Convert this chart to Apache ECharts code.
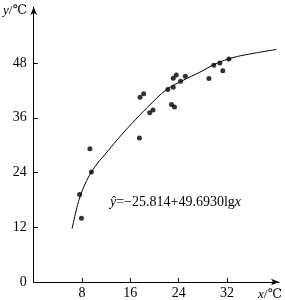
<!DOCTYPE html>
<html>
<head>
<meta charset="utf-8">
<script src="https://cdn.jsdelivr.net/npm/echarts@6/dist/echarts.min.js"></script>
<style>
  html, body { margin: 0; padding: 0; background: #fff; }
  #chart { width: 285px; height: 300px; }
</style>
</head>
<body>
<div id="chart"></div>
<script>
// observed points (x: temperature, y: temperature)
const pointsX = [7.6, 7.9, 9.3, 9.55, 17.5, 17.6, 18.2, 19.2, 19.75, 22.2, 23.1, 23.1, 23.6, 24.3, 25.1, 22.8, 23.3, 29.0, 29.8, 30.8, 31.3, 32.3];
const pointsY = [19.2, 14.0, 29.2, 24.1, 31.6, 40.5, 41.3, 37.1, 37.7, 42.2, 42.7, 44.7, 45.4, 44.0, 45.1, 38.9, 38.4, 44.6, 47.5, 48.0, 46.3, 48.9];

// fitted curve
const curveX = [6.35, 7.0, 7.6, 8.5, 9.55, 10.6, 11.75, 13.96, 16.2, 18.9, 22.0, 24.7, 27.5, 30.2, 33.0, 35.8, 40.2];
const curveY = [11.7, 15.5, 18.4, 21.5, 24.1, 26.1, 27.9, 31.4, 34.7, 38.4, 42.2, 44.2, 46.0, 47.9, 49.2, 50.0, 51.0];

const xTicks = [8, 16, 24, 32];
const yLabels = [0, 12, 24, 36, 48];
const yTicks = [12, 24, 36, 48];

const FONT = '"Liberation Serif", "DejaVu Serif", serif';

const chart = echarts.init(document.getElementById("chart"));

const axisLineStyle = {
  show: true,
  symbol: ["none", "arrow"],
  symbolSize: [5, 8],
  lineStyle: { color: "#000", width: 1 },
};

chart.setOption({
  animation: false,
  grid: { left: 33.7, right: 6, top: 7, bottom: 18 },
  xAxis: {
    type: "value",
    min: 0,
    max: 40.6,
    splitLine: { show: false },
    axisLine: axisLineStyle,
    axisTick: { show: true, inside: true, length: 4, customValues: xTicks, lineStyle: { color: "#000" } },
    axisLabel: { customValues: xTicks, color: "#000", fontFamily: FONT, fontSize: 14, margin: 4 },
  },
  yAxis: {
    type: "value",
    min: 0,
    max: 60.3,
    splitLine: { show: false },
    axisLine: axisLineStyle,
    axisTick: { show: true, inside: true, length: 4, customValues: yTicks, lineStyle: { color: "#000" } },
    axisLabel: { customValues: yLabels, color: "#000", fontFamily: FONT, fontSize: 14, margin: 7 },
  },
  series: [
    {
      type: "line",
      data: curveX.map((x, i) => [x, curveY[i]]),
      smooth: 0.4,
      showSymbol: false,
      lineStyle: { color: "#000", width: 1 },
      silent: true,
    },
    {
      type: "scatter",
      data: pointsX.map((x, i) => [x, pointsY[i]]),
      symbolSize: 5,
      itemStyle: { color: "#000" },
    },
  ],
  graphic: [
    {
      type: "text",
      left: 110,
      top: 195,
      style: {
        text: "{i|ŷ}=−25.814+49.6930lg{i|x}",
        fontFamily: FONT,
        fontSize: 14,
        fill: "#000",
        rich: { i: { fontStyle: "italic", fontFamily: FONT, fontSize: 14 } },
      },
    },
    {
      type: "text",
      x: 27,
      y: 11,
      style: {
        text: "{i|y}/℃",
        align: "right",
        verticalAlign: "middle",
        fontFamily: FONT,
        fontSize: 13,
        fill: "#000",
        rich: { i: { fontStyle: "italic", fontFamily: FONT, fontSize: 13 } },
      },
    },
    {
      type: "text",
      x: 258,
      y: 295,
      style: {
        text: "{i|x}/℃",
        verticalAlign: "middle",
        fontFamily: FONT,
        fontSize: 13,
        fill: "#000",
        rich: { i: { fontStyle: "italic", fontFamily: FONT, fontSize: 13 } },
      },
    },
  ],
});
</script>
</body>
</html>
